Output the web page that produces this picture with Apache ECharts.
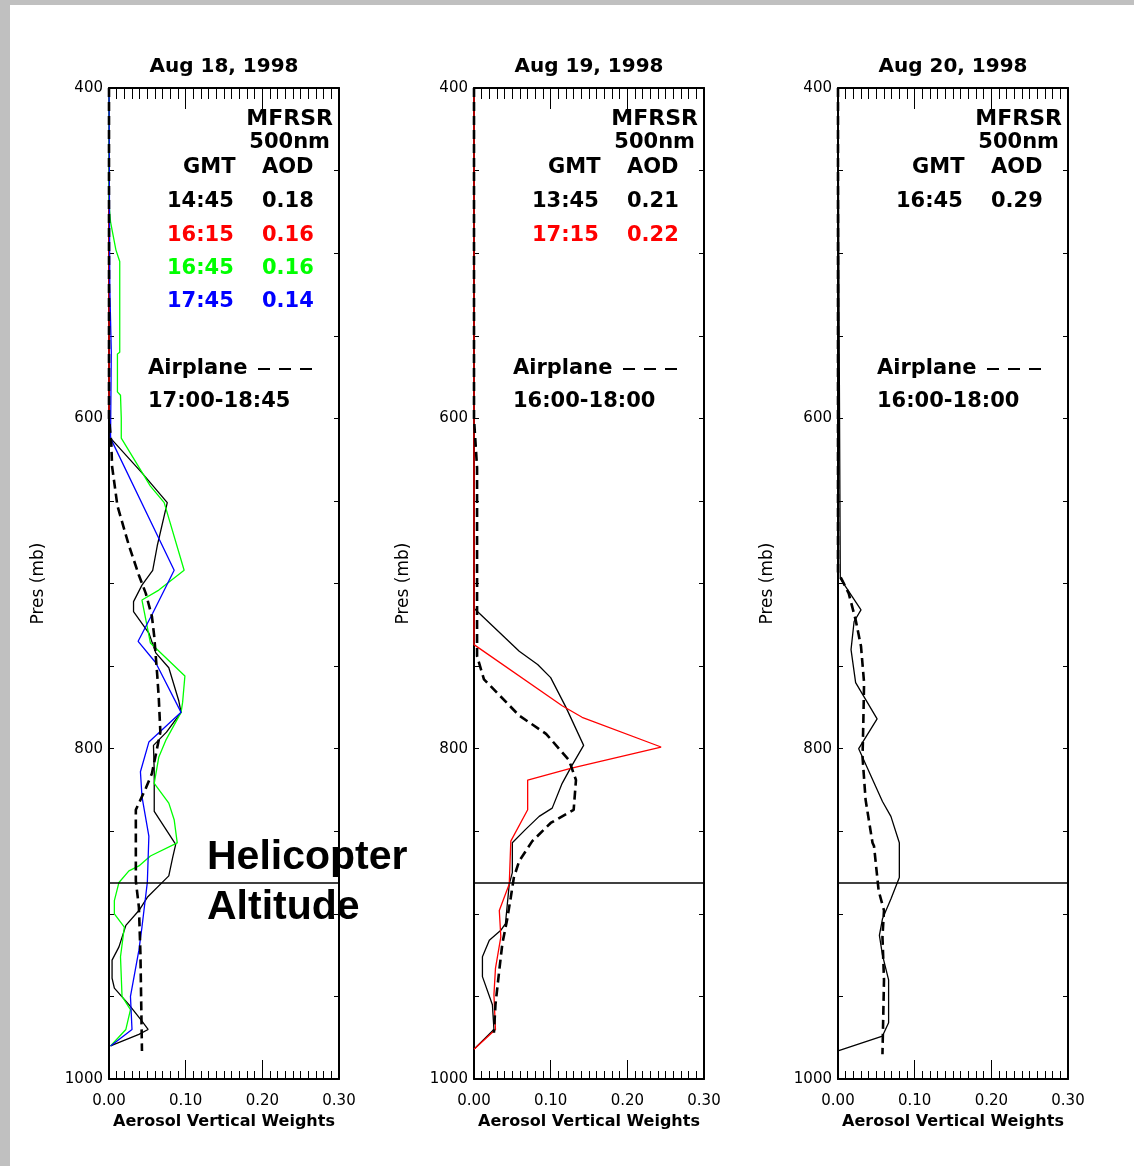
<!DOCTYPE html>
<html>
<head>
<meta charset="utf-8">
<script src="https://cdn.jsdelivr.net/npm/echarts@6/dist/echarts.min.js"></script>
<style>
  html, body { margin: 0; padding: 0; background: #fff; }
  #chart { width: 1134px; height: 1166px; }
</style>
</head>
<body>
<div id="chart"></div>
<script>
// each point is [aerosol vertical weight, pressure (mb)]
var titles = ['Aug 18, 1998', 'Aug 19, 1998', 'Aug 20, 1998'];
var xTicks = [0, 0.1, 0.2, 0.3];
var yLabels = [400, 600, 800, 1000];
var heliPres = 881;

// Aug 18
var aug18_1445 = [[0,400],[0,600],[0.002,612],[0.043,633],[0.076,651],[0.063,677],[0.057,692],[0.043,701],[0.032,711],[0.032,717],[0.052,730],[0.061,742],[0.078,751],[0.091,771],[0.094,778],[0.075,790],[0.058,798],[0.059,814],[0.059,838],[0.087,858],[0.083,866],[0.078,877],[0.050,890],[0.039,898],[0.022,907],[0.013,920],[0.004,928],[0.004,939],[0.007,945],[0.026,955],[0.043,965],[0.051,970],[0.039,973],[0.002,980]];
var aug18_1615 = [[0,400],[0,600]];
var aug18_1645 = [[0,400],[0,470],[0.002,481],[0.009,498],[0.014,505],[0.014,560],[0.011,561],[0.011,584],[0.015,586],[0.016,600],[0.016,612],[0.054,641],[0.072,651],[0.098,692],[0.065,704],[0.043,710],[0.054,736],[0.099,756],[0.096,772],[0.094,778],[0.074,795],[0.065,805],[0.059,821],[0.078,833],[0.085,843],[0.089,857],[0.054,865],[0.039,871],[0.026,874],[0.013,881],[0.007,892],[0.007,900],[0.020,908],[0.015,926],[0.017,950],[0.028,958],[0.022,970],[0.002,980]];
var aug18_1745 = [[0,400],[0.001,520],[0.003,560],[0.002,612],[0.085,692],[0.057,718],[0.038,735],[0.061,748],[0.094,778],[0.052,796],[0.041,814],[0.043,829],[0.052,853],[0.050,881],[0.043,908],[0.039,922],[0.028,950],[0.030,970],[0.002,980]];
var aug18_plane = [[0,400],[0,600],[0.003,615],[0.004,629],[0.011,653],[0.026,677],[0.039,695],[0.048,706],[0.056,720],[0.059,732],[0.063,756],[0.065,770],[0.067,790],[0.056,815],[0.048,824],[0.043,829],[0.035,837],[0.035,880],[0.039,896],[0.041,924],[0.043,983]];

// Aug 19
var aug19_1345 = [[0,400],[0,715],[0.059,741],[0.083,749],[0.100,757],[0.120,775],[0.143,798],[0.128,810],[0.115,821],[0.102,836],[0.085,841],[0.067,849],[0.050,857],[0.050,875],[0.046,882],[0.041,906],[0.035,910],[0.020,916],[0.011,926],[0.011,938],[0.024,955],[0.026,970],[0,982]];
var aug19_1715 = [[0,400],[0,737],[0.115,774],[0.141,781],[0.244,799],[0.126,812],[0.070,819],[0.070,837],[0.048,856],[0.046,882],[0.033,898],[0.035,914],[0.028,933],[0.026,949],[0.028,970],[0,982]];
var aug19_plane = [[0,400],[0,600],[0.004,630],[0.004,744],[0.013,758],[0.059,780],[0.094,791],[0.124,807],[0.133,819],[0.130,837],[0.100,845],[0.076,856],[0.059,868],[0.052,878],[0.048,890],[0.043,904],[0.037,918],[0.033,934],[0.028,955],[0.026,972]];

// Aug 20
var aug20_1645 = [[0,400],[0.003,697],[0.030,716],[0.021,723],[0.017,740],[0.023,760],[0.051,782],[0.027,800],[0.058,832],[0.069,841],[0.080,857],[0.080,878],[0.069,891],[0.058,903],[0.054,913],[0.058,925],[0.066,940],[0.066,966],[0.058,974],[0,983]];
var aug20_plane = [[0,400],[0,693],[0.014,706],[0.023,722],[0.030,738],[0.034,760],[0.033,785],[0.032,805],[0.036,831],[0.045,857],[0.047,859],[0.053,886],[0.060,898],[0.058,914],[0.060,940],[0.058,985]];

// legend rows: [GMT, AOD, colour]
var rows18 = [['14:45','0.18','#000000'],['16:15','0.16','#ff0000'],['16:45','0.16','#00ff00'],['17:45','0.14','#0000ff']];
var rows19 = [['13:45','0.21','#000000'],['17:15','0.22','#ff0000']];
var rows20 = [['16:45','0.29','#000000']];
var planeTimes = ['17:00-18:45', '16:00-18:00', '16:00-18:00'];

var panels = [
  { lines: [[aug18_1445,'#000000'],[aug18_1615,'#ff0000'],[aug18_1645,'#00ff00'],[aug18_1745,'#0000ff']], plane: aug18_plane, rows: rows18 },
  { lines: [[aug19_1345,'#000000'],[aug19_1715,'#ff0000']], plane: aug19_plane, rows: rows19 },
  { lines: [[aug20_1645,'#000000']], plane: aug20_plane, rows: rows20 }
];

var lefts = [109, 474, 838];
var gTop = 88, gW = 230, gH = 991;
var F = 'DejaVu Sans';

var grid = [], xAxis = [], yAxis = [], series = [], graphic = [];

graphic.push({ type: 'rect', shape: { x: 0, y: 0, width: 10, height: 1166 }, style: { fill: '#c0c0c0' }, z: 100 });
graphic.push({ type: 'rect', shape: { x: 0, y: 0, width: 1134, height: 5 }, style: { fill: '#c0c0c0' }, z: 100 });

panels.forEach(function (pn, i) {
  var L = lefts[i];
  grid.push({ left: L, top: gTop, width: gW, height: gH });

  var axLine = { show: true, onZero: false, lineStyle: { color: '#000', width: 2 } };
  xAxis.push({
    type: 'value', gridIndex: i, position: 'bottom', min: xTicks[0], max: xTicks[xTicks.length - 1], interval: 0.1,
    axisLine: axLine,
    axisTick: { show: true, inside: true, length: 19, lineStyle: { color: '#000', width: 1 } },
    minorTick: { show: true, splitNumber: 10, length: 8, lineStyle: { color: '#000', width: 1 } },
    splitLine: { show: false },
    axisLabel: { margin: 15, fontFamily: F, fontSize: 15, color: '#000', formatter: function (v) { return v.toFixed(2); } },
    name: 'Aerosol Vertical Weights', nameLocation: 'middle', nameGap: 35,
    nameTextStyle: { fontFamily: F, fontSize: 16, fontWeight: 'bold', color: '#000' }
  });
  xAxis.push({
    type: 'value', gridIndex: i, position: 'top', min: 0, max: 0.3, interval: 0.1,
    axisLine: axLine,
    axisTick: { show: true, inside: true, length: 21, lineStyle: { color: '#000', width: 1 } },
    minorTick: { show: true, splitNumber: 10, length: 11, lineStyle: { color: '#000', width: 1 } },
    splitLine: { show: false },
    axisLabel: { show: false }
  });
  yAxis.push({
    type: 'value', gridIndex: i, position: 'left', inverse: true, min: yLabels[0], max: yLabels[yLabels.length - 1], interval: 50,
    axisLine: axLine,
    axisTick: { show: true, inside: true, length: 5, lineStyle: { color: '#000', width: 1 } },
    splitLine: { show: false },
    axisLabel: { margin: 6, fontFamily: F, fontSize: 15, color: '#000',
      formatter: function (v) { return yLabels.indexOf(v) >= 0 ? String(v) : ''; } },
    name: 'Pres (mb)', nameLocation: 'middle', nameGap: 62, nameRotate: 90,
    nameTextStyle: { fontFamily: F, fontSize: 17, color: '#000' }
  });
  yAxis.push({
    type: 'value', gridIndex: i, position: 'right', inverse: true, min: 400, max: 1000, interval: 50,
    axisLine: axLine,
    axisTick: { show: true, inside: true, length: 5, lineStyle: { color: '#000', width: 1 } },
    splitLine: { show: false },
    axisLabel: { show: false }
  });

  pn.lines.forEach(function (ln) {
    series.push({
      type: 'line', xAxisIndex: 2 * i, yAxisIndex: 2 * i, data: ln[0], showSymbol: false, symbol: 'none',
      lineStyle: { color: ln[1], width: 1.3 }, silent: true
    });
  });
  series.push({
    type: 'line', xAxisIndex: 2 * i, yAxisIndex: 2 * i, data: pn.plane, showSymbol: false, symbol: 'none',
    lineStyle: { color: '#000', width: 2.6, type: [9, 5] }, silent: true,
    markLine: { silent: true, symbol: 'none', label: { show: false },
      lineStyle: { color: '#000', type: 'solid', width: 1.5 }, data: [{ yAxis: heliPres }] }
  });

  // title
  graphic.push({ type: 'text', x: L + gW / 2, y: 67, style: { text: titles[i], fill: '#000',
    font: 'bold 20px "DejaVu Sans"', textAlign: 'center', textVerticalAlign: 'middle' } });

  // in-panel legend
  var bf = 'bold 21px "DejaVu Sans"';
  graphic.push({ type: 'text', x: L + 224, y: 119, style: { text: 'MFRSR', fill: '#000', font: 'bold 22px "DejaVu Sans"', textAlign: 'right', textVerticalAlign: 'middle' } });
  graphic.push({ type: 'text', x: L + 221, y: 143, style: { text: '500nm', fill: '#000', font: bf, textAlign: 'right', textVerticalAlign: 'middle' } });
  graphic.push({ type: 'text', x: L + 74, y: 168, style: { text: 'GMT', fill: '#000', font: bf, textVerticalAlign: 'middle' } });
  graphic.push({ type: 'text', x: L + 153, y: 168, style: { text: 'AOD', fill: '#000', font: bf, textVerticalAlign: 'middle' } });
  pn.rows.forEach(function (r, k) {
    var y = 202 + k * 33.3;
    graphic.push({ type: 'text', x: L + 58, y: y, style: { text: r[0], fill: r[2], font: bf, textVerticalAlign: 'middle' } });
    graphic.push({ type: 'text', x: L + 153, y: y, style: { text: r[1], fill: r[2], font: bf, textVerticalAlign: 'middle' } });
  });
  graphic.push({ type: 'text', x: L + 39, y: 369, style: { text: 'Airplane', fill: '#000', font: bf, textVerticalAlign: 'middle' } });
  graphic.push({ type: 'line', shape: { x1: L + 149, y1: 369, x2: L + 212, y2: 369 },
    style: { stroke: '#000', lineWidth: 2, lineDash: [12, 9] } });
  graphic.push({ type: 'text', x: L + 39, y: 402, style: { text: planeTimes[i], fill: '#000', font: bf, textVerticalAlign: 'middle' } });
});

var hf = 'bold 41px "Liberation Sans"';
graphic.push({ type: 'text', x: 207, y: 858, z: 50, style: { text: 'Helicopter', fill: '#000', font: hf, textVerticalAlign: 'middle' } });
graphic.push({ type: 'text', x: 207, y: 908, z: 50, style: { text: 'Altitude', fill: '#000', font: hf, textVerticalAlign: 'middle' } });

var chart = echarts.init(document.getElementById('chart'), null, { renderer: 'canvas' });
chart.setOption({
  backgroundColor: '#ffffff',
  animation: false,
  grid: grid,
  xAxis: xAxis,
  yAxis: yAxis,
  series: series,
  graphic: graphic
});
</script>
</body>
</html>
